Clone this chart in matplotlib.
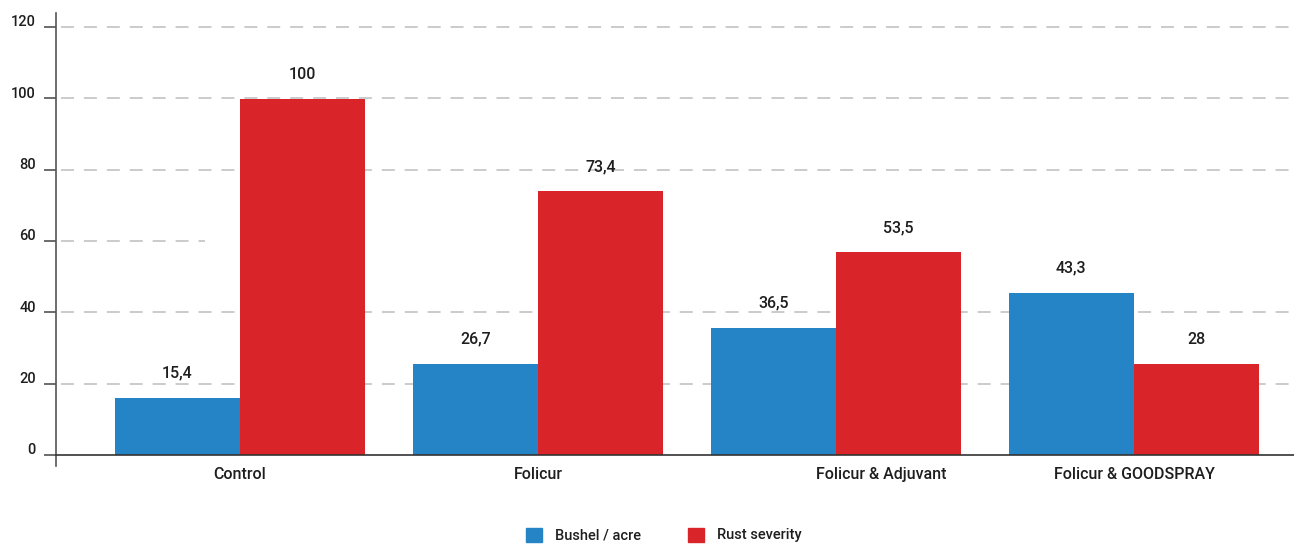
import matplotlib.pyplot as plt
import matplotlib.transforms as mtransforms
from matplotlib.patches import Patch
import numpy as np

plt.rcParams['font.family'] = ['Roboto', 'DejaVu Sans']
plt.rcParams['font.weight'] = 'medium'

# data
treatments = ['Control', 'Folicur', 'Folicur & Adjuvant', 'Folicur & GOODSPRAY']
bushel_height = [16.1, 25.6, 35.7, 45.5]
rust_height = [99.9, 73.9, 56.8, 25.6]
bushel_labels = ['15,4', '26,7', '36,5', '43,3']
rust_labels = ['100', '73,4', '53,5', '28']
y_ticks = [0, 20, 40, 60, 80, 100, 120]

blue = '#2484c6'
red = '#d9252a'
text_col = '#1e1e1e'

fig = plt.figure(figsize=(12.94, 5.47), dpi=100)
ax = fig.add_axes([56 / 1294, 81 / 547, 1 - 56 / 1294, (466 - 13) / 547])

x = np.arange(len(treatments))
w = 0.42
ax.bar(x - w / 2, bushel_height, w, color=blue, zorder=3)
ax.bar(x + w / 2, rust_height, w, color=red, zorder=3)

for xi, h, lab in zip(x - w / 2, bushel_height, bushel_labels):
    ax.text(xi, h + 6.8, lab, ha='center', va='center', fontsize=11.5, color=text_col)
for xi, h, lab in zip(x + w / 2, rust_height, rust_labels):
    ax.text(xi, h + 6.8, lab, ha='center', va='center', fontsize=11.5, color=text_col)

ax.set_xlim(-0.617, 3.537)
ax.set_ylim(-3.1, 123.9)

# dashed grid, the 60 line is cut short in the original
for yv in y_ticks[1:]:
    xmax = 0.12 if yv == 60 else 1.0
    ax.axhline(yv, xmin=0.004, xmax=xmax, color='#bdbdbd', lw=1.1,
               dashes=(8.5, 6.5), zorder=1)

for s in ['top', 'right']:
    ax.spines[s].set_visible(False)
ax.spines['left'].set_color('#555555')
ax.spines['left'].set_linewidth(1.2)
ax.spines['bottom'].set_position(('data', 0))
ax.spines['bottom'].set_color('#333333')
ax.spines['bottom'].set_linewidth(1.2)
ax.spines['bottom'].set_zorder(4)

ax.set_yticks(y_ticks)
ax.tick_params(axis='y', length=8.6, width=1.1, color='#444444', pad=6,
               labelsize=10.5, labelcolor=text_col)
up = mtransforms.ScaledTranslation(0, 6 / 100, fig.dpi_scale_trans)
for lab in ax.get_yticklabels():
    lab.set_transform(lab.get_transform() + up)

ax.set_xticks(x)
ax.set_xticklabels(treatments)
ax.tick_params(axis='x', length=0, pad=9, labelsize=11.5, labelcolor=text_col)
shift = mtransforms.ScaledTranslation(45 / 100, 0, fig.dpi_scale_trans)
lab = ax.get_xticklabels()[2]
lab.set_transform(lab.get_transform() + shift)

handles = [Patch(color=blue, label='Bushel / acre'), Patch(color=red, label='Rust severity')]
fig.legend(handles=handles, loc='center', bbox_to_anchor=(0.513, 1 - 535 / 547), ncol=2,
           frameon=False, fontsize=10.5, handlelength=1.1, handleheight=1.1,
           handletextpad=0.9, columnspacing=3.2, labelcolor=text_col)

fig.savefig('out.png', dpi=100)
